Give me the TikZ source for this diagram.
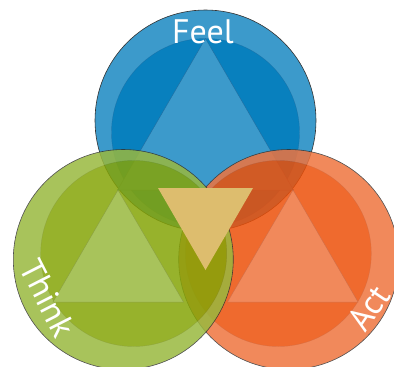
\documentclass[tikz,border=0pt]{standalone}
\usepackage{fontspec}
\setmainfont{PT Sans}
\definecolor{bRing}{RGB}{60,154,203}
\definecolor{bIn}{RGB}{8,128,190}
\definecolor{bLine}{RGB}{30,100,150}
\definecolor{gRing}{RGB}{153,184,62}
\definecolor{gIn}{RGB}{133,164,7}
\definecolor{gLine}{RGB}{110,135,30}
\definecolor{oRing}{RGB}{239,116,62}
\definecolor{oIn}{RGB}{236,80,9}
\definecolor{oLine}{RGB}{190,80,40}
\definecolor{yTri}{RGB}{221,189,110}
\definecolor{edge}{RGB}{50,50,50}
\tikzset{
  outer/.style={draw=edge, line width=0.6pt},
  innerc/.style={draw=#1, line width=0.4pt, draw opacity=0.5},
  tri/.style={draw=#1, line width=0.5pt, draw opacity=0.7},
  label/.style={text=white, font=\fontsize{34}{34}\selectfont, inner sep=0pt}
}
\begin{document}
\begin{tikzpicture}[x=1pt,y=-1pt]
\useasboundingbox (0,0) rectangle (394,367);
\clip (0,0) rectangle (394,367);
% blue
\fill[outer, fill=bRing] (205.5,120.5) circle[radius=110.5];
\fill[innerc=bLine, fill=bIn] (205.5,132.5) circle[radius=94];
\fill[tri=bLine, fill=bRing] (205.5,38.5) -- (117.5,190) -- (293.5,190) -- cycle;
% orange
\begin{scope}[transparency group, opacity=0.85]
\fill[outer, fill=oRing] (288.7,259.5) circle[radius=110];
\fill[innerc=oLine, fill=oIn] (278.3,253.5) circle[radius=93];
\fill[tri=oLine, fill=oRing] (293,190) -- (227.5,302) -- (358,302) -- cycle;
\end{scope}
% green
\begin{scope}[transparency group, opacity=0.85]
\fill[outer, fill=gRing] (123.3,259.5) circle[radius=110];
\fill[innerc=gLine, fill=gIn] (133.7,253.5) circle[radius=93];
\fill[tri=gLine, fill=gRing] (118,190) -- (53,302) -- (183.5,302) -- cycle;
\end{scope}
% centre
\fill[yTri] (158,188) -- (253,188) -- (205.5,270) -- cycle;
% labels
\node[label, anchor=base] (feel) at (203,43) {Feel};
\node[label, rotate=-63] (think) at (48,298) {Think};
\node[label, rotate=56] (act) at (369,308) {Act};
\end{tikzpicture}
\end{document}
